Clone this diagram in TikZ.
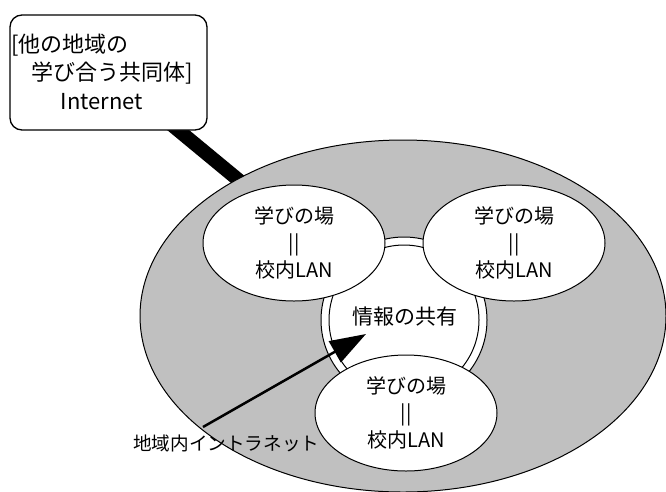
\documentclass[tikz,border=0pt]{standalone}
\usepackage{fontspec}
\setmainfont{Noto Sans CJK JP}
\usetikzlibrary{shapes.geometric,arrows.meta,backgrounds}
\definecolor{areagray}{HTML}{C0C0C0}
\tikzset{
  lanbox/.style={ellipse, draw=black, line width=1pt, fill=white, minimum width=182pt, minimum height=116pt, inner sep=0pt, align=center, font=\fontsize{20}{27}\selectfont},
  txt/.style={inner sep=0pt, font=\fontsize{22}{24}\selectfont},
}
\begin{document}
\begin{tikzpicture}[x=1pt,y=-1pt]
\useasboundingbox (0,0) rectangle (666,491);
% regional area
\node[ellipse, draw=black, line width=1pt, fill=areagray, minimum width=526pt, minimum height=352pt, inner sep=0pt] (area) at (403,316) {};
% external box
\node[rectangle, rounded corners=12pt, draw=black, line width=1.3pt, fill=white, minimum width=197pt, minimum height=115pt, inner sep=0pt] (ext) at (108.5,72.5) {};
\node[txt, anchor=west] (t1) at (11,45) {[他の地域の};
\node[txt, anchor=west] (t2) at (31,73) {学び合う共同体]};
\node[txt] (t3) at (102,102) {Internet};
\begin{scope}[on background layer]
  \fill[white] (0,0) rectangle (666,491);
  \draw[line width=14pt] (ext.center) -- (area.center);
\end{scope}
% shared information ring
\node[circle, draw=black, line width=1pt, fill=white, minimum size=166pt, inner sep=0pt] (ringO) at (404,320) {};
\node[circle, draw=black, line width=1pt, minimum size=150pt, inner sep=0pt] (ringI) at (404,320) {};
\node[inner sep=0pt, font=\fontsize{21}{24}\selectfont] (share) at (405,317) {情報の共有};
% school LANs
\node[lanbox] (lanA) at (294,243) {学びの場\\||\\校内LAN};
\node[lanbox] (lanB) at (514,243) {学びの場\\||\\校内LAN};
\node[lanbox] (lanC) at (406,413) {学びの場\\||\\校内LAN};
% intranet arrow
\coordinate (arrS) at (203,427);
\coordinate (arrE) at (366,334);
\draw[line width=2.5pt, -{Triangle[length=36pt,width=24pt]}] (arrS) -- (arrE);
\node[inner sep=0pt, font=\fontsize{18.6}{20}\selectfont, anchor=west] (intra) at (133,443) {地域内イントラネット};
\end{tikzpicture}
\end{document}
